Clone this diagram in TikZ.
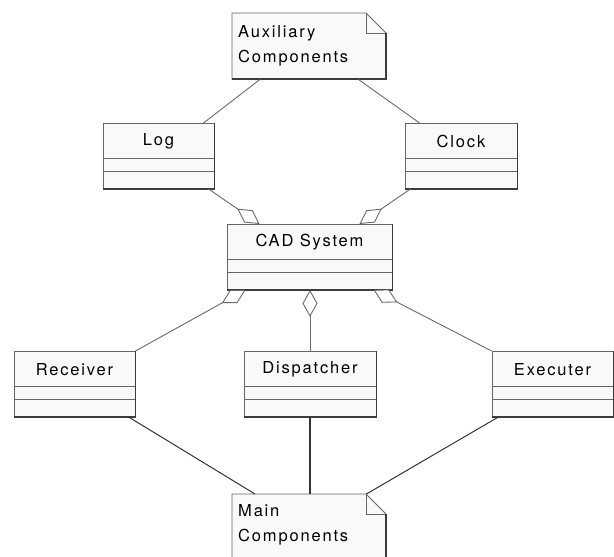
\documentclass[tikz,border=0pt]{standalone}
\usepackage{fontspec}
\setmainfont{TeX Gyre Heros}[LetterSpace=11]
\usetikzlibrary{arrows.meta,calc}
\definecolor{boxfill}{HTML}{F9F9F9}
\definecolor{edgec}{HTML}{666666}
\definecolor{shadowc}{HTML}{3C3C3C}
\definecolor{connc}{HTML}{6A6A6A}
\definecolor{connd}{HTML}{333333}
\tikzset{
  lbl/.style={font=\fontsize{16.5}{20}\selectfont, text=black, inner sep=0pt},
  boxedge/.style={draw=edgec, line width=0.9pt},
  shadowedge/.style={draw=shadowc, line width=1.6pt},
  conn/.style={draw=connc, line width=0.9pt},
  connlow/.style={draw=connd, line width=1.0pt},
  aggend/.style={-{Diamond[length=27pt,width=15pt,fill=white]}},
}
\newcommand\umlclass[5]{%
  \node[rectangle, inner sep=0pt, minimum width=#4pt, minimum height=65pt,
        anchor=north, fill=boxfill, boxedge] (#1) at (#2,#3) {};
  \draw[boxedge] ($(#1.north west)+(0,35.5)$) -- ($(#1.north east)+(0,35.5)$);
  \draw[boxedge] ($(#1.north west)+(0,48.5)$) -- ($(#1.north east)+(0,48.5)$);
  \draw[shadowedge] (#1.north east) -- (#1.south east) -- (#1.south west);
  \node[lbl] (#1-t) at ($(#1.north)+(0,18.5)$) {#5};
}
\newcommand\umlnote[5]{%
  \filldraw[fill=boxfill, boxedge] (#2,#3) -- (#4-20,#3) -- (#4,#3+20) -- (#4,#5) -- (#2,#5) -- cycle;
  \draw[boxedge] (#4-20,#3) -- (#4-20,#3+20) -- (#4,#3+20);
  \draw[shadowedge] (#4,#3+20) -- (#4,#5) -- (#2,#5);
  \node[inner sep=0pt, minimum width=#4pt-#2pt, minimum height=#5pt-#3pt, anchor=north west] (#1) at (#2,#3) {};
}
\begin{document}
\begin{tikzpicture}[x=1pt,y=-1pt]
\useasboundingbox (0,0) rectangle (614,557);
\clip (0,0) rectangle (614,557);
\fill[white] (0,0) rectangle (614,557);

\umlnote{aux}{232}{13}{386}{79}
\node[lbl, anchor=base west] (auxa) at (238,37) {Auxiliary};
\node[lbl, anchor=base west] (auxb) at (238,62) {Components};

\umlclass{log}{158.5}{123}{111}{Log}
\umlclass{clock}{461}{123}{112}{Clock}
\umlclass{cad}{309.5}{224}{165}{CAD System}
\umlclass{recv}{74.5}{351}{121}{Receiver}
\umlclass{disp}{310}{351}{132}{Dispatcher}
\umlclass{exec}{552.5}{351}{121}{Executer}

\umlnote{main}{232}{494}{386}{600}
\node[lbl, anchor=base west] (maina) at (238,516) {Main};
\node[lbl, anchor=base west] (mainb) at (238,541) {Components};

% auxiliary links
\draw[conn] ($(aux.south west)+(28,0)$) -- ($(log.north east)+(-11,0)$);
\draw[conn] ($(aux.south east)+(-28,0)$) -- ($(clock.north west)+(15,0)$);

% aggregations into CAD System
\draw[conn, aggend] ($(log.south east)+(-6,0)$) -- ($(cad.north west)+(33,0)$);
\draw[conn, aggend] ($(clock.south west)+(6,0)$) -- ($(cad.north east)+(-33,0)$);
\draw[conn, aggend] (recv.north east) -- ($(cad.south west)+(19,0)$);
\draw[conn, aggend] (disp.north) -- ($(cad.south)+(0.5,0)$);
\draw[conn, aggend] (exec.north west) -- ($(cad.south east)+(-19,0)$);

% main components links
\draw[connlow] ($(recv.south east)+(-7,0)$) -- ($(main.north west)+(23,0)$);
\draw[connlow, line width=1.6pt] (disp.south) -- (disp.south |- main.north);
\draw[connlow] ($(exec.south west)+(7,0)$) -- ($(main.north east)+(-20,0)$);
\end{tikzpicture}
\end{document}
